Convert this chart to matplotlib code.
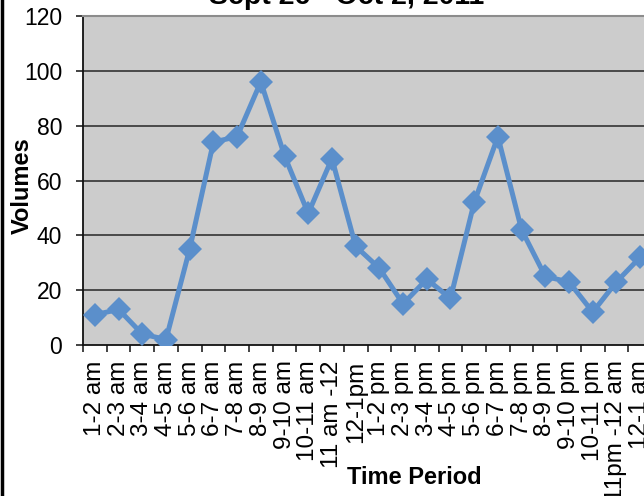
import matplotlib
matplotlib.use("Agg")
import matplotlib.pyplot as plt
from matplotlib.lines import Line2D

plt.rcParams['font.family'] = ['Liberation Sans', 'DejaVu Sans']

periods = ["1-2 am", "2-3 am", "3-4 am", "4-5 am", "5-6 am", "6-7 am", "7-8 am",
           "8-9 am", "9-10 am", "10-11 am", "11 am -12", "12-1pm", "1-2 pm",
           "2-3 pm", "3-4 pm", "4-5 pm", "5-6 pm", "6-7 pm", "7-8 pm", "8-9 pm",
           "9-10 pm", "10-11 pm", "11pm -12 am", "12-1 am"]
volumes = [11, 13, 4, 2, 35, 74, 76, 96, 69, 48, 68, 36, 28, 15, 24, 17,
           52, 76, 42, 25, 23, 12, 23, 32]
yticks = [0, 20, 40, 60, 80, 100, 120]

W, H = 644, 496
fig = plt.figure(figsize=(W / 100, H / 100), dpi=100)
# plot area runs past the right edge (the reference is a crop)
ax = fig.add_axes([83 / W, (H - 345) / H, (652 - 83) / W, (345 - 16) / H])
ax.set_facecolor('#cccccc')

x = list(range(len(periods)))
ax.plot(x, volumes, color='#5b8fcb', lw=3.6, marker='D', markersize=12.5,
        markeredgewidth=0, zorder=3)

ax.set_xlim(-0.5, len(periods) - 0.5)
ax.set_ylim(0, 120)
ax.set_yticks(yticks)
ax.set_yticklabels([str(v) for v in yticks], fontsize=16.5)
ax.set_xticks([i - 0.5 for i in x] + [len(x) - 0.5])
ax.set_xticklabels([])
ax.set_xticks(x, minor=True)
ax.set_xticklabels(periods, minor=True, rotation=90, fontsize=17.5)
ax.tick_params(axis='x', which='minor', length=0, pad=11)
ax.tick_params(axis='x', which='major', length=5, width=1.2, color='#222222')
ax.tick_params(axis='y', length=5, width=1.2, color='#222222', pad=10)

for v in yticks[1:-1]:
    ax.axhline(v, color='#333333', lw=1.2, zorder=1)

for s in ['left', 'bottom']:
    ax.spines[s].set_color('#111111')
    ax.spines[s].set_linewidth(1.3)
ax.spines['top'].set_color('#8c8c8c')
ax.spines['top'].set_linewidth(1.5)
ax.spines['right'].set_visible(False)

fig.text(22 / W, 1 - 186 / H, "Volumes", rotation=90, fontsize=17,
         fontweight='bold', ha='center', va='center')
fig.text(414 / W, 1 - 477 / H, "Time Period", fontsize=17,
         fontweight='bold', ha='center', va='center')
fig.text(347 / W, 1 - 4 / H, "Sept 26 - Oct 2, 2011", fontsize=20.5,
         fontweight='bold', ha='center', va='baseline')

# chart border on the left
fig.add_artist(Line2D([2 / W, 2 / W], [0, 1], color='black', lw=2.5,
                      transform=fig.transFigure))

fig.savefig("out.png", dpi=100)
